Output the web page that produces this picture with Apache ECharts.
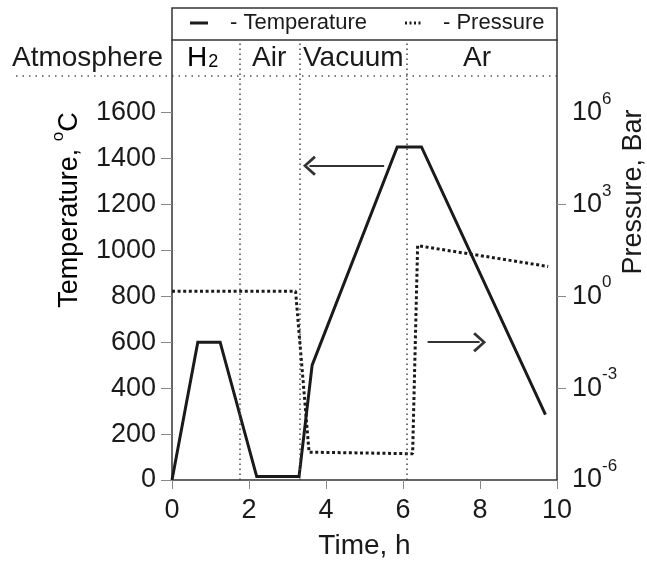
<!DOCTYPE html>
<html>
<head>
<meta charset="utf-8">
<script src="https://cdn.jsdelivr.net/npm/echarts@6/dist/echarts.min.js"></script>
<style>html,body{margin:0;padding:0;background:#fff}#c{width:647px;height:565px}</style>
</head>
<body>
<div id="c"></div>
<script>
// ---- data ----
const tempTime  = [0, 0.67, 1.25, 2.2, 3.3, 3.64, 5.85, 6.48, 9.7];
const tempValue = [0, 600, 600, 15, 15, 500, 1450, 1450, 285];
const pressTime  = [0, 3.21, 3.56, 6.25, 6.38, 9.77];
const pressValue = [1.45, 1.45, 8.1e-6, 7.2e-6, 45, 9.4];
const phaseBounds = [1.75, 3.33, 6.1];
const phaseNames = ['H2', 'Air', 'Vacuum', 'Ar'];
const tempTicks = [0, 200, 400, 600, 800, 1000, 1200, 1400, 1600];
const pressTicks = [1e-6, 1e-3, 1, 1e3, 1e6];
const pressTickMarks = [1e-3, 1, 1e3];
const timeTicks = [0, 2, 4, 6, 8, 10];
const arrowToTemp = [[5.51, 1368], [3.57, 1368]];
const arrowToPress = [[6.64, 600], [7.99, 600]];

const FONT = '"Liberation Sans", Arial, Helvetica, sans-serif';
const INK = '#1a1a1a';
const chevron = 'path://M10,0L20,11L18,13L10,4L2,13L0,11Z';

const chart = echarts.init(document.getElementById('c'), null, {renderer: 'canvas'});

const option = {
  animation: false,
  backgroundColor: '#fff',
  textStyle: {fontFamily: FONT, color: INK},
  grid: {left: 172, right: 90, top: 40, bottom: 82},
  xAxis: {
    type: 'value', min: 0, max: 10, interval: 2,
    name: 'Time, h', nameLocation: 'middle', nameGap: 52,
    nameTextStyle: {fontSize: 28, color: INK, fontFamily: FONT},
    axisLine: {show: true, lineStyle: {color: '#333', width: 1.5}},
    axisTick: {show: true, length: 9, customValues: timeTicks, lineStyle: {color: '#888', width: 1}},
    axisLabel: {fontSize: 27, color: INK, margin: 17, customValues: timeTicks, fontFamily: FONT,
      formatter: v => String(v)},
    splitLine: {show: false}
  },
  yAxis: [{
    type: 'value', min: 0, max: 1915.7,
    axisLine: {show: true, lineStyle: {color: '#333', width: 1.5}},
    axisTick: {show: true, length: 11, customValues: tempTicks, lineStyle: {color: '#888', width: 1}},
    axisLabel: {fontSize: 27, color: INK, margin: 16, customValues: tempTicks, fontFamily: FONT,
      formatter: v => String(Math.round(v))},
    splitLine: {show: false}
  }, {
    type: 'log', logBase: 10, min: 1e-6, max: Math.pow(10, 8.368),
    position: 'right',
    axisLine: {show: true, lineStyle: {color: '#333', width: 1.5}},
    axisTick: {show: true, length: 9, customValues: pressTickMarks, lineStyle: {color: '#888', width: 1}},
    axisLabel: {
      margin: 15, customValues: pressTicks,
      formatter: function (v) { return '{b|10}{s|' + Math.round(Math.log10(v)) + '}'; },
      rich: {
        b: {fontSize: 27, lineHeight: 44, color: INK, fontFamily: FONT},
        s: {fontSize: 17, lineHeight: 17, verticalAlign: 'top', color: INK, fontFamily: FONT}
      }
    },
    splitLine: {show: false}
  }],
  series: [{
    name: 'Temperature', type: 'line', yAxisIndex: 0,
    data: tempTime.map((t, i) => [t, tempValue[i]]),
    showSymbol: false, symbol: 'none',
    lineStyle: {color: INK, width: 3, join: 'miter'},
    markLine: {
      silent: true, animation: false,
      label: {show: false},
      lineStyle: {type: 'solid', width: 2, color: '#333'},
      data: [
        [{coord: arrowToTemp[0], symbol: 'none'}, {coord: arrowToTemp[1], symbol: chevron, symbolSize: [20, 13]}],
        [{coord: arrowToPress[0], symbol: 'none'}, {coord: arrowToPress[1], symbol: chevron, symbolSize: [20, 13]}]
      ]
    }
  }, {
    name: 'Pressure', type: 'line', yAxisIndex: 1,
    data: pressTime.map((t, i) => [t, pressValue[i]]),
    showSymbol: false, symbol: 'none',
    lineStyle: {color: INK, width: 3, type: [3, 2.6], cap: 'butt'},
    markLine: {
      silent: true, animation: false, symbol: 'none',
      label: {show: false},
      lineStyle: {type: [1.5, 3.5], width: 1.5, color: '#444'},
      data: phaseBounds.map(v => ({xAxis: v}))
    }
  }],
  graphic: [
    // legend box
    {type: 'rect', shape: {x: 172, y: 8, width: 385, height: 32}, style: {fill: 'none', stroke: '#333', lineWidth: 1.5}, silent: true},
    {type: 'line', shape: {x1: 190, y1: 23, x2: 208, y2: 23}, style: {stroke: INK, lineWidth: 3}},
    {type: 'text', x: 230, y: 23, style: {text: '- Temperature', fontSize: 22, fontFamily: FONT, fill: INK, textVerticalAlign: 'middle'}},
    {type: 'line', shape: {x1: 405, y1: 23, x2: 423, y2: 23}, style: {stroke: INK, lineWidth: 3, lineDash: [2, 2.5]}},
    {type: 'text', x: 443, y: 23, style: {text: '- Pressure', fontSize: 22, fontFamily: FONT, fill: INK, textVerticalAlign: 'middle'}},
    // atmosphere row
    {type: 'line', shape: {x1: 16, y1: 76, x2: 562, y2: 76}, style: {stroke: '#555', lineWidth: 1.5, lineDash: [1.5, 5]}},
    {type: 'text', x: 12, y: 58, style: {text: 'Atmosphere', fontSize: 28, fontFamily: FONT, fill: INK, textVerticalAlign: 'middle'}},
    {type: 'text', x: 187, y: 58, style: {text: '{m|H}{d|' + phaseNames[0].slice(1) + '}', textVerticalAlign: 'middle',
      rich: {m: {fontSize: 28, lineHeight: 34, fontFamily: FONT, color: INK},
             d: {fontSize: 18, lineHeight: 18, verticalAlign: 'bottom', fontFamily: FONT, color: INK, padding: [0, 0, 4, 1]}}}},
    {type: 'text', x: 252, y: 58, style: {text: phaseNames[1], fontSize: 28, fontFamily: FONT, fill: INK, textVerticalAlign: 'middle'}},
    {type: 'text', x: 303, y: 58, style: {text: phaseNames[2], fontSize: 28, fontFamily: FONT, fill: INK, textVerticalAlign: 'middle'}},
    {type: 'text', x: 463, y: 58, style: {text: phaseNames[3], fontSize: 28, fontFamily: FONT, fill: INK, textVerticalAlign: 'middle'}},
    // axis names
    {type: 'text', x: 70, y: 210, rotation: Math.PI / 2, style: {
      text: '{t|Temperature, }{s|o}{t|C}', textAlign: 'center', textVerticalAlign: 'middle',
      rich: {t: {fontSize: 27, lineHeight: 40, fontFamily: FONT, color: INK},
             s: {fontSize: 17, lineHeight: 17, verticalAlign: 'top', fontFamily: FONT, color: INK}}}},
    {type: 'text', x: 634, y: 192, rotation: Math.PI / 2, style: {
      text: 'Pressure, Bar', fontSize: 27, fontFamily: FONT, fill: INK, textAlign: 'center', textVerticalAlign: 'middle'}}
  ]
};
chart.setOption(option);
</script>
</body>
</html>
